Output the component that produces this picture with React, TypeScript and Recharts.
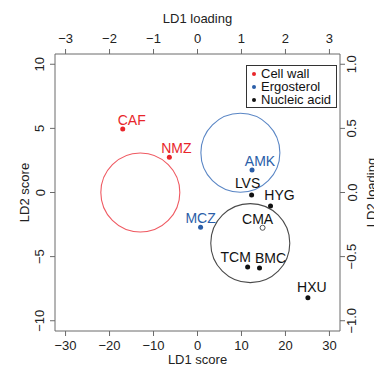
import React from 'react';
import { ScatterChart, Scatter, XAxis, YAxis, ReferenceDot, Legend, Label } from 'recharts';

// LD scores
const cellWall = [
  { name: 'CAF', x: -17.0, y: 4.95 },
  { name: 'NMZ', x: -6.4, y: 2.75 },
];
const ergosterol = [
  { name: 'AMK', x: 12.4, y: 1.75 },
  { name: 'MCZ', x: 0.7, y: -2.7 },
];
const nucleicAcid = [
  { name: 'LVS', x: 12.3, y: -0.2 },
  { name: 'HYG', x: 16.6, y: -1.05 },
  { name: 'TCM', x: 11.4, y: -5.8 },
  { name: 'BMC', x: 14.1, y: -5.88 },
  { name: 'HXU', x: 25.1, y: -8.2 },
];
// CMA is drawn as an open circle
const unassigned = [{ name: 'CMA', x: 14.8, y: -2.75 }];

// group centres for the circles
const groupCentres = [
  { group: 'Cell wall', x: -13.0, y: 0.0 },
  { group: 'Ergosterol', x: 9.75, y: 3.1 },
  { group: 'Nucleic acid', x: 12.0, y: -3.95 },
];

const legendItems = ['Cell wall', 'Ergosterol', 'Nucleic acid'];

const scoreTicks = [-30, -20, -10, 0, 10, 20, 30];
const ld2Ticks = [-10, -5, 0, 5, 10];
const loadingTicks = [-3, -2, -1, 0, 1, 2, 3];
const ld2LoadingTicks = [-1, -0.5, 0, 0.5, 1];

const COLORS: Record<string, string> = {
  'Cell wall': '#e8262b',
  Ergosterol: '#2b5ea8',
  'Nucleic acid': '#111111',
};
const RING: Record<string, string> = {
  'Cell wall': '#ef5a62',
  Ergosterol: '#5a86c5',
  'Nucleic acid': '#4a4a4a',
};

// label offsets (text centre relative to the dot)
const nudge: Record<string, [number, number]> = {
  CAF: [9, -9],
  NMZ: [7, -9],
  AMK: [8, -9],
  MCZ: [0, -9.5],
  LVS: [-4, -12],
  HYG: [9, -10.5],
  CMA: [-5, -9],
  TCM: [-12, -10],
  BMC: [11, -10],
  HXU: [4, -11],
};

const FONT = '"Liberation Sans", Arial, Helvetica, sans-serif';
const AXIS = '#6a6a6a';

const minus = (s: string) => s.replace('-', '\u2212');

const makeShape = (color: string, open = false) => (props: any) => {
  const { cx, cy, payload } = props;
  const [dx, dy] = nudge[payload.name] || [0, -10];
  return (
    <g>
      <circle
        cx={cx}
        cy={cy}
        r={2.5}
        fill={open ? 'none' : color}
        stroke={open ? '#555' : 'none'}
        strokeWidth={1}
      />
      <text
        x={cx + dx}
        y={cy + dy}
        textAnchor="middle"
        dominantBaseline="central"
        fontSize={14}
        fontFamily={FONT}
        fill={color}
      >
        {payload.name}
      </text>
    </g>
  );
};

const hTick = (yPos: number, fmt: (v: number) => string) => (props: any) => (
  <text
    x={props.x}
    y={yPos}
    textAnchor="middle"
    dominantBaseline="central"
    fontSize={13}
    fontFamily={FONT}
    fill="#222"
  >
    {fmt(props.payload.value)}
  </text>
);

const vTick = (xPos: number, fmt: (v: number) => string) => (props: any) => (
  <text
    x={xPos}
    y={props.y}
    transform={`rotate(-90 ${xPos} ${props.y})`}
    textAnchor="middle"
    dominantBaseline="central"
    fontSize={13}
    fontFamily={FONT}
    fill="#222"
  >
    {fmt(props.payload.value)}
  </text>
);

const title = (text: string, x: number, y: number, rotate = false) => () => (
  <text
    x={x}
    y={y}
    transform={rotate ? `rotate(-90 ${x} ${y})` : undefined}
    textAnchor="middle"
    dominantBaseline="central"
    fontSize={13}
    fontFamily={FONT}
    fill="#222"
  >
    {text}
  </text>
);

const LegendBox = () => (
  <div
    style={{
      border: '1px solid #333',
      background: '#fff',
      padding: '1px 0',
      width: 89,
      fontFamily: FONT,
      fontSize: 13,
      color: '#111',
    }}
  >
    {legendItems.map((g) => (
      <div key={g} style={{ height: 13, lineHeight: '13px', display: 'flex', alignItems: 'center' }}>
        <span
          style={{
            display: 'inline-block',
            width: 4,
            height: 4,
            borderRadius: 2,
            background: COLORS[g],
            marginLeft: 5,
            marginRight: 5,
          }}
        />
        <span>{g}</span>
      </div>
    ))}
  </div>
);

export default function App() {
  return (
    <div style={{ position: 'absolute', left: 0, top: 0, background: '#fff' }}>
      <ScatterChart width={374} height={367} margin={{ top: 0, right: 0, bottom: 0, left: 0 }}>
        <XAxis
          xAxisId="bottom"
          orientation="bottom"
          type="number"
          dataKey="x"
          domain={[-32.4, 32.4]}
          ticks={scoreTicks}
          allowDataOverflow
          height={36}
          tickSize={5}
          stroke={AXIS}
          tick={hTick(345, (v) => minus(String(v)))}
        >
          <Label content={title('LD1 score', 197.5, 359)} />
        </XAxis>
        <XAxis
          xAxisId="top"
          orientation="top"
          type="number"
          dataKey="x"
          domain={[-3.24, 3.24]}
          ticks={loadingTicks}
          allowDataOverflow
          height={54}
          tickSize={5}
          stroke={AXIS}
          tick={hTick(38, (v) => minus(String(v)))}
        >
          <Label content={title('LD1 loading', 197.5, 18)} />
        </XAxis>
        <YAxis
          yAxisId="left"
          orientation="left"
          type="number"
          dataKey="y"
          domain={[-10.8, 10.8]}
          ticks={ld2Ticks}
          allowDataOverflow
          width={55}
          tickSize={5}
          stroke={AXIS}
          tick={vTick(40, (v) => minus(String(v)))}
        >
          <Label content={title('LD2 score', 24, 192.5, true)} />
        </YAxis>
        <YAxis
          yAxisId="right"
          orientation="right"
          type="number"
          dataKey="y"
          domain={[-1.08, 1.08]}
          ticks={ld2LoadingTicks}
          allowDataOverflow
          width={34}
          tickSize={5}
          stroke={AXIS}
          tick={vTick(352, (v) => minus(v.toFixed(1)))}
        >
          <Label content={title('LD2 loading', 371, 192.5, true)} />
        </YAxis>

        {groupCentres.map((c) => (
          <ReferenceDot
            key={c.group}
            xAxisId="bottom"
            yAxisId="left"
            x={c.x}
            y={c.y}
            r={39.5}
            fill="none"
            stroke={RING[c.group]}
            strokeWidth={1.1}
            ifOverflow="visible"
          />
        ))}

        <Scatter
          name="Cell wall"
          data={cellWall}
          xAxisId="bottom"
          yAxisId="left"
          shape={makeShape(COLORS['Cell wall'])}
          isAnimationActive={false}
        />
        <Scatter
          name="Ergosterol"
          data={ergosterol}
          xAxisId="bottom"
          yAxisId="left"
          shape={makeShape(COLORS.Ergosterol)}
          isAnimationActive={false}
        />
        <Scatter
          name="Nucleic acid"
          data={nucleicAcid}
          xAxisId="bottom"
          yAxisId="left"
          shape={makeShape(COLORS['Nucleic acid'])}
          isAnimationActive={false}
        />
        <Scatter
          name="CMA"
          data={unassigned}
          xAxisId="bottom"
          yAxisId="left"
          shape={makeShape('#111111', true)}
          isAnimationActive={false}
        />
        <Scatter data={[]} xAxisId="top" yAxisId="right" isAnimationActive={false} />

        <Legend
          layout="vertical"
          align="center"
          verticalAlign="middle"
          content={() => <LegendBox />}
          wrapperStyle={{ position: 'absolute', left: 246, top: 65, width: 91 }}
        />
      </ScatterChart>
    </div>
  );
}
